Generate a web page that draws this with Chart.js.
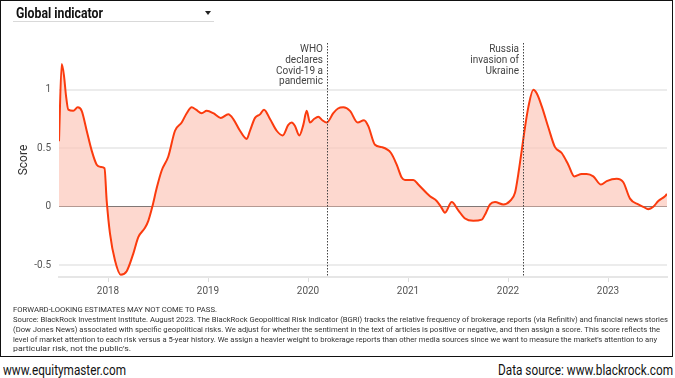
<!DOCTYPE html>
<html><head><meta charset="utf-8">
<script src="https://cdn.jsdelivr.net/npm/chart.js@4/dist/chart.umd.min.js"></script>
<style>
html,body{margin:0;padding:0;background:#fff}
body{width:675px;height:378px;position:relative;overflow:hidden;font-family:Roboto,"Noto Sans",sans-serif}
#frame{position:absolute;left:0;top:0;width:671px;height:355px;border:1.5px solid #111;box-sizing:content-box}
#cv{position:absolute;left:0;top:0}
.fit{position:absolute;white-space:nowrap;transform-origin:0 50%;line-height:1}
#title{left:16px;top:6px;font-size:14px;font-weight:700;color:#111}
#uline{position:absolute;left:13px;top:21px;width:201px;height:1px;background:#d9d9d9}
#tri{position:absolute;left:205px;top:11px;width:0;height:0;border-left:3.5px solid transparent;border-right:3.5px solid transparent;border-top:4px solid #222}
.ft{font-size:8px;color:#333}
.bot{font-size:14px;color:#111}
</style></head>
<body>
<canvas id="cv" width="675" height="300"></canvas>
<div id="frame"></div>
<div id="title" class="fit" data-w="87">Global indicator</div>
<div id="uline"></div>
<div id="tri"></div>
<div id="notes"></div>
<div class="fit bot" data-w="123" style="left:3px;top:363px">www.equitymaster.com</div>
<div class="fit bot" data-w="175" style="left:498px;top:363px">Data source: www.blackrock.com</div>
<script>
// ---- data ----
const dates = [2017.51,2017.537,2017.56,2017.58,2017.603,2017.653,2017.697,2017.737,2017.787,2017.837,2017.887,2017.93,2017.965,2017.987,
2018.02,2018.07,2018.127,2018.187,2018.253,2018.303,2018.37,2018.403,2018.443,2018.487,2018.537,2018.603,2018.67,2018.737,2018.787,2018.837,2018.88,2018.937,2018.987,
2019.053,2019.127,2019.203,2019.253,2019.32,2019.387,2019.42,2019.47,2019.52,2019.56,2019.62,2019.687,2019.747,2019.803,2019.837,2019.87,2019.913,2019.953,2019.987,
2020.02,2020.06,2020.103,2020.143,2020.187,2020.253,2020.30,2020.353,2020.42,2020.497,2020.56,2020.603,2020.67,2020.737,2020.83,2020.887,2020.937,2020.97,
2021.053,2021.103,2021.22,2021.287,2021.33,2021.37,2021.437,2021.503,2021.57,2021.653,2021.737,2021.78,2021.82,2021.87,2021.953,
2022.02,2022.07,2022.103,2022.137,2022.17,2022.203,2022.253,2022.287,2022.337,2022.403,2022.47,2022.537,2022.603,2022.663,2022.737,2022.787,2022.853,2022.93,2022.987,
2023.087,2023.153,2023.22,2023.303,2023.353,2023.403,2023.453,2023.503,2023.57,2023.59];
const scores = [0.56,1.22,1.12,0.95,0.83,0.82,0.85,0.82,0.65,0.48,0.36,0.34,0.33,0.05,
-0.23,-0.46,-0.58,-0.55,-0.40,-0.26,-0.18,-0.12,0.0,0.16,0.31,0.43,0.65,0.72,0.80,0.85,0.83,0.80,0.82,
0.80,0.76,0.79,0.75,0.65,0.58,0.65,0.76,0.79,0.83,0.75,0.65,0.61,0.70,0.72,0.69,0.61,0.70,0.82,
0.72,0.75,0.77,0.74,0.72,0.80,0.84,0.85,0.82,0.72,0.74,0.69,0.53,0.51,0.46,0.36,0.25,0.23,
0.23,0.19,0.09,0.05,0.0,-0.05,0.04,-0.03,-0.10,-0.12,-0.11,-0.05,0.02,0.04,0.02,
0.05,0.12,0.28,0.48,0.68,0.85,1.00,0.97,0.86,0.68,0.51,0.46,0.36,0.26,0.28,0.28,0.26,0.19,0.22,
0.24,0.21,0.07,0.02,0.0,-0.02,0.0,0.05,0.09,0.11];
const yearTicks = [2018,2019,2020,2021,2022,2023];
const scoreTicks = [-0.5,0,0.5,1];
const eventDates = [2020.19, 2022.15];
const eventLabels = [["WHO","declares","Covid-19 a","pandemic"],["Russia","invasion of","Ukraine"]];
const footnotes = [
 "FORWARD-LOOKING ESTIMATES MAY NOT COME TO PASS.",
 "Source: BlackRock Investment Institute. August 2023. The BlackRock Geopolitical Risk Indicator (BGRI) tracks the relative frequency of brokerage reports (via Refinitiv) and financial news stories",
 "(Dow Jones News) associated with specific geopolitical risks. We adjust for whether the sentiment in the text of articles is positive or negative, and then assign a score. This score reflects the",
 "level of market attention to each risk versus a 5-year history. We assign a heavier weight to brokerage reports than other media sources since we want to measure the market's attention to any",
 "particular risk, not the public's."
];
// ---- footnotes ----
const noteW=[204,655,647,644,118], noteY=[306,316,326,335.5,344.5];
const notes=document.getElementById('notes');
footnotes.forEach((t,i)=>{const d=document.createElement('div');d.className='fit ft';d.textContent=t;d.dataset.w=noteW[i];d.style.left='13px';d.style.top=noteY[i]+'px';notes.appendChild(d);});
document.querySelectorAll('.fit').forEach(el=>{const w=el.getBoundingClientRect().width;const tw=+el.dataset.w;el.style.transform='scaleX('+(tw/w)+')';});

const eventPlugin={id:'events',afterDatasetsDraw(chart){
  const {ctx,chartArea,scales:{x}}=chart;
  ctx.save();
  eventDates.forEach((d,i)=>{
    const px=Math.round(x.getPixelForValue(d))+0.5;
    ctx.strokeStyle='#444';ctx.lineWidth=1;ctx.setLineDash([1.5,1.5]);
    ctx.beginPath();ctx.moveTo(px,chartArea.top);ctx.lineTo(px,chartArea.bottom);ctx.stroke();
    ctx.setLineDash([]);
    ctx.fillStyle='#444';ctx.font='10px Roboto';ctx.textAlign='right';ctx.textBaseline='middle';
    eventLabels[i].forEach((l,j)=>ctx.fillText(l,px-4.5,49.5+j*10.8));
  });
  ctx.restore();
}};

new Chart(document.getElementById('cv'),{
  type:'line',
  data:{datasets:[{
    data:dates.map((d,i)=>({x:d,y:scores[i]})),
    borderColor:'#fb3b0e',borderWidth:2,
    backgroundColor:'rgba(252,200,187,0.7)',
    fill:'origin',pointRadius:0,cubicInterpolationMode:'monotone'
  }]},
  options:{
    responsive:false,animation:false,
    layout:{padding:{left:0,right:8,top:43,bottom:0}},
    plugins:{legend:{display:false},tooltip:{enabled:false}},
    scales:{
      x:{type:'linear',min:2017.51,max:2023.59,
        afterBuildTicks:a=>{a.ticks=yearTicks.map(v=>({value:v}));},
        afterFit:s=>{s.height=23;},
        grid:{drawOnChartArea:false,color:'#ddd',tickLength:5,lineWidth:1},
        border:{color:'#e6e6e6',width:2},
        ticks:{color:'#555',font:{size:10,family:'Roboto'},padding:3,maxRotation:0,callback:v=>String(v)}
      },
      y:{min:-0.6,max:1.4,
        afterBuildTicks:a=>{a.ticks=scoreTicks.map(v=>({value:v}));},
        afterFit:s=>{s.width=59;},
        grid:{drawTicks:false,color:c=>c.tick&&c.tick.value===0?'#666':'#ececec',lineWidth:c=>c.tick&&c.tick.value===0?1:2},
        border:{display:false},
        ticks:{color:'#555',font:{size:10,family:'Roboto'},padding:8,callback:v=>String(v)},
        title:{display:true,text:'Score',color:'#333',font:{size:12,family:'Roboto'},padding:{top:17,bottom:0}}
      }
    }
  },
  plugins:[eventPlugin]
});
</script>
</body></html>
